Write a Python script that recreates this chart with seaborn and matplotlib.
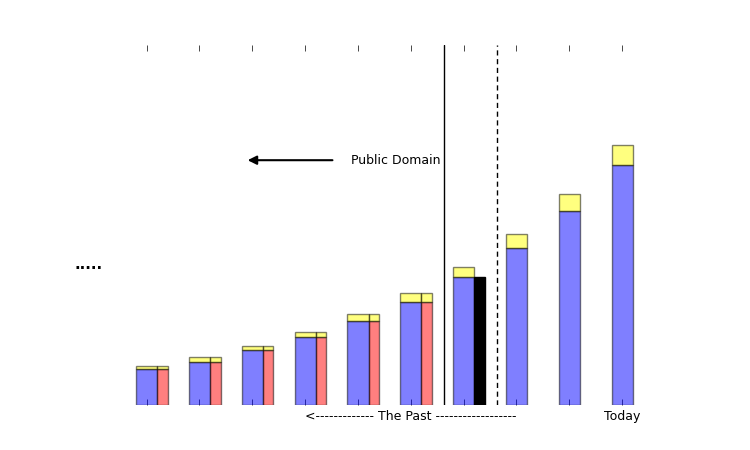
import numpy as np
import pandas as pd
import seaborn as sns
import matplotlib
matplotlib.use("Agg")
import matplotlib.pyplot as plt

# values (y axis runs 0..100)
positions = [0, 1, 2, 3, 4, 5, 6, 7, 8, 9]
blue_heights = [10.0, 12.0, 15.2, 18.8, 23.25, 28.5, 35.5, 43.5, 53.8, 66.6]
yellow_heights = [0.8, 1.2, 1.1, 1.4, 1.95, 2.5, 2.8, 3.9, 4.7, 5.55]
red_positions = [0.3, 1.3, 2.3, 3.3, 4.3, 5.3]
red_heights = [10.0, 12.0, 15.2, 18.8, 23.25, 28.5]
red_yellow_heights = [0.8, 1.2, 1.1, 1.4, 1.95, 2.5]
black_positions = [6.3]
black_heights = [35.5]
tick_labels = ['', '', '', '', '', '<------------- The Past ------------------', '', '', '', 'Today']

sns.set_style("white")
plt.rcParams['font.size'] = 9
plt.rcParams['text.color'] = 'black'
plt.rcParams['xtick.color'] = 'black'
plt.rcParams['xtick.labelcolor'] = 'black'

fig, ax = plt.subplots(figsize=(7.5, 4.5), dpi=100)
fig.subplots_adjust(left=0.125, right=0.9, bottom=0.1, top=0.9)

bar_kws = dict(native_scale=True, errorbar=None, saturation=1, alpha=0.5,
               edgecolor='black', linewidth=1, ax=ax)

# main stack: blue with a yellow cap
sns.barplot(x=positions, y=blue_heights, color='blue', width=0.4, **bar_kws)
sns.barplot(x=positions, y=yellow_heights, bottom=blue_heights, color='yellow', width=0.4, **bar_kws)

# red companions for the older years
sns.barplot(x=red_positions, y=red_heights, color='red', width=0.2, **bar_kws)
sns.barplot(x=red_positions, y=red_yellow_heights, bottom=red_heights, color='yellow', width=0.2, **bar_kws)

# the one black bar
sns.barplot(x=black_positions, y=black_heights, color='black', width=0.2, native_scale=True,
            errorbar=None, saturation=1, edgecolor='black', linewidth=1, ax=ax)

ax.axvline(5.625, color='black', lw=1)
ax.axvline(6.625, color='black', lw=1, ls=(0, (3.7, 2.6)))

ax.annotate('', xy=(1.86, 68.0), xytext=(3.57, 68.0),
            arrowprops=dict(arrowstyle='-|>', color='black', lw=1.5, mutation_scale=13))
ax.text(3.86, 68.0, 'Public Domain', va='center', ha='left')
ax.text(-1.36, 37.9, '.....', va='baseline', ha='left', fontsize=11, fontweight='bold', clip_on=False)

ax.set_xlim(-1, 10)
ax.set_ylim(0, 100)
ax.set_xticks(positions)
ax.set_xticklabels(tick_labels)
ax.set_yticks([])
ax.set_xlabel('')
ax.set_ylabel('')
ax.tick_params(axis='x', which='both', top=True, bottom=True, direction='in',
               length=4, width=0.5, color='black', labelcolor='black')
sns.despine(ax=ax, left=True, bottom=True, top=True, right=True)

fig.savefig('out.png', dpi=100)
